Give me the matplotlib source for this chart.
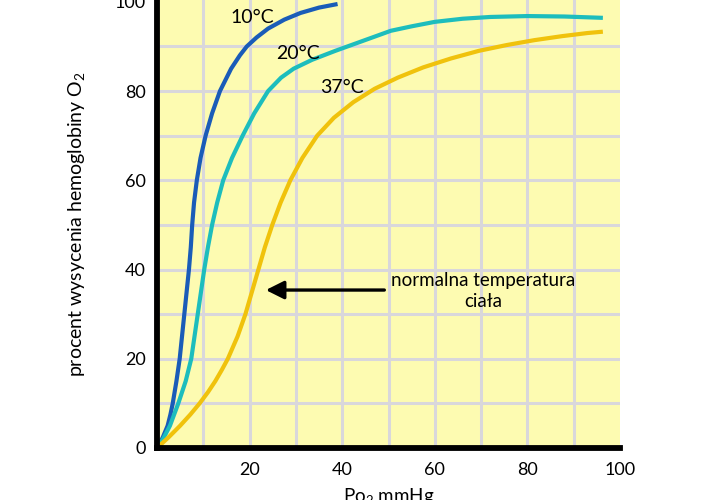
import matplotlib
matplotlib.use("Agg")
import matplotlib.pyplot as plt

plt.rcParams["font.family"] = ["Lato", "DejaVu Sans"]
plt.rcParams["mathtext.fontset"] = "custom"
plt.rcParams["mathtext.rm"] = "Lato"
plt.rcParams["mathtext.it"] = "Lato"

# PO2 (mmHg) vs % saturation
po2_10 = [0, 0.6, 1.3, 2.3, 2.9, 3.4, 4.2, 4.9, 5.4, 5.9, 6.4, 6.9, 7.3, 7.6, 8.0, 8.6, 9.4,
          10.5, 11.9, 13.6, 16.0, 17.9, 19.4, 21.5, 24.0, 27.5, 31.0, 35.0, 39.0]
sat_10 = [0, 1, 2.5, 5, 7.5, 10, 15, 20, 25, 30, 35, 40, 45, 50, 55, 60, 65,
          70, 75, 80, 85, 88, 90, 92, 94, 96, 97.5, 98.7, 99.5]

po2_20 = [0, 1.3, 2.8, 4.6, 6.2, 7.4, 8.1, 8.8, 9.5, 10.2, 11.0, 11.9, 13.0, 14.3, 16.2,
          18.5, 21.0, 24.0, 26.8, 29.5, 33.5, 38.5, 42.5, 46.5, 50.5, 55.0, 60.0, 66.0,
          72.0, 80.0, 88.0, 96.3]
sat_20 = [0, 2, 5, 10, 15, 20, 25, 30, 35, 40, 45, 50, 55, 60, 65,
          70, 75, 80, 83, 85, 87, 89, 90.5, 92, 93.5, 94.5, 95.5, 96.2,
          96.6, 96.8, 96.7, 96.4]

po2_37 = [0, 2.6, 5.0, 7.2, 9.2, 11.0, 12.6, 14.0, 15.3, 17.4, 19.1, 20.5, 21.9, 23.3,
          24.9, 26.7, 28.8, 31.4, 34.6, 38.2, 42.4, 47.0, 52.0, 57.5, 63.5, 69.5, 75.5,
          81.5, 87.5, 93.0, 96.3]
sat_37 = [0, 2.5, 5, 7.5, 10, 12.5, 15, 17.5, 20, 25, 30, 35, 40, 45,
          50, 55, 60, 65, 70, 74, 77.5, 80.5, 83, 85.3, 87.3, 89, 90.3,
          91.4, 92.3, 93, 93.3]

curve_labels = ["10°C", "20°C", "37°C"]
curve_colors = ["#1a5cb8", "#1dbdbd", "#f0c20c"]
label_pos = [(20.5, 96.5), (30.5, 88.4), (40.0, 80.8)]

fig = plt.figure(figsize=(7.2, 5), dpi=100)
ax = fig.add_axes([157 / 720, 52 / 500, 463 / 720, 448 / 500])
ax.set_facecolor("#fdfbb1")

for x in range(10, 100, 10):
    ax.axvline(x, color="#d9d7db", lw=2.2, zorder=1)
for y in range(10, 100, 10):
    ax.axhline(y, color="#d9d7db", lw=2.2, zorder=1)

series = [(po2_10, sat_10), (po2_20, sat_20), (po2_37, sat_37)]
for (xs, ys), col in zip(series, curve_colors):
    ax.plot(xs, ys, color=col, lw=3.0, solid_capstyle="butt",
            solid_joinstyle="round", zorder=3)

for lab, (lx, ly) in zip(curve_labels, label_pos):
    ax.text(lx, ly, lab, fontsize=14, ha="center", va="center", zorder=4)

ax.annotate("", xy=(22.9, 35.4), xytext=(49.7, 35.4),
            arrowprops=dict(arrowstyle="-|>,head_length=1.1,head_width=0.55",
                            color="black", lw=2.4), zorder=4)
ax.text(70.4, 35.2, "normalna temperatura\nciała", fontsize=13.5,
        ha="center", va="center", linespacing=1.3, zorder=4)

ax.set_xlim(0, 100)
ax.set_ylim(0, 100.4)
ax.set_xticks([20, 40, 60, 80, 100])
ax.set_yticks([0, 20, 40, 60, 80, 100])
ax.tick_params(length=0, labelsize=13)
ax.tick_params(axis="y", pad=8)
ax.tick_params(axis="x", pad=10)

for side in ["top", "right"]:
    ax.spines[side].set_visible(False)
for side in ["left", "bottom"]:
    ax.spines[side].set_linewidth(4.2)
    ax.spines[side].set_color("black")
    ax.spines[side].set_zorder(5)

ax.set_ylabel(r"procent wysycenia hemoglobiny O$_2$", fontsize=14, labelpad=20)
ax.set_xlabel(r"Po$_2$ mmHg", fontsize=13.5, labelpad=6)

fig.savefig("out.png", dpi=100)
